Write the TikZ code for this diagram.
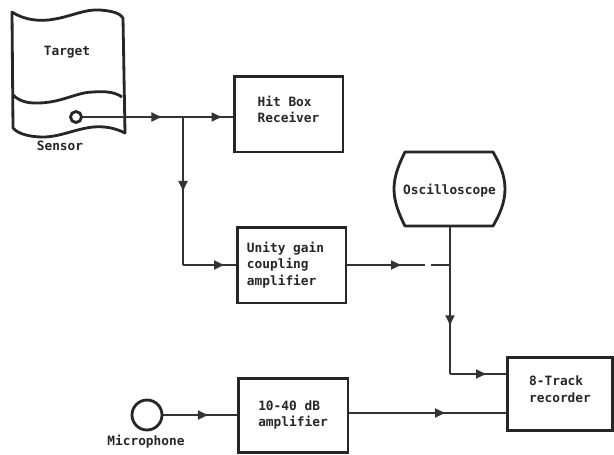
\documentclass[tikz,border=0pt]{standalone}
\usepackage{fontspec}
\setmainfont{DejaVu Sans Mono}
\usetikzlibrary{arrows.meta,decorations.markings}
\tikzset{
    box/.style={draw=black!85, line width=1.7pt, align=left, inner sep=0pt},
    lbl/.style={font=\fontsize{7.3}{9.2}\selectfont\bfseries, text=black!85},
    wire/.style={line width=1pt, draw=black!80},
    arrowat/.style={wire, postaction={decorate},
        decoration={markings, mark=at position #1 with {\arrow{Latex[length=0.23cm,width=0.2cm]}}}},
    outline/.style={draw=black!85, line width=1.6pt, line join=round},
}

\begin{document}
\begin{tikzpicture}[x=0.02cm, y=-0.02cm]
    \useasboundingbox (0,0) rectangle (614,454);

    % Target sheet
    \draw[outline] (12,12) .. controls (24,20) and (40,22) .. (55,19) .. controls (72,16) and (85,9) .. (100,10) .. controls (112,11) and (120,13) .. (123,18)
        -- (125,133) .. controls (115,128) and (105,126) .. (93,127) .. controls (75,129) and (60,137) .. (43,137) .. controls (30,137) and (18,134) .. (13,128) -- cycle;
    \draw[outline] (13,95) .. controls (22,104) and (35,104) .. (50,102) .. controls (68,99) and (80,92) .. (93,92) .. controls (105,91) and (115,92) .. (122,97);
    \node[lbl] (target) at (67,52) {Target};
    \node[circle, draw=black!85, line width=1.6pt, minimum size=0.22cm, inner sep=0pt] (sensor) at (76,117) {};
    \node[lbl] (sensorlabel) at (60,146) {Sensor};

    % Boxes
    \node[box, lbl, text depth=5pt, minimum width=2.18cm, minimum height=1.52cm] (hitbox) at (288.5,114) {Hit Box\\Receiver};
    \node[box, lbl, minimum width=2.18cm, minimum height=1.52cm] (unity) at (291.5,265) {Unity gain\hspace*{6.8pt}\\coupling\\amplifier};
    \node[box, lbl, minimum width=2.2cm, minimum height=1.48cm] (amp) at (293,415) {10-40 dB\\amplifier};
    \node[box, lbl, text depth=5pt, minimum width=2.1cm, minimum height=1.46cm] (rec) at (560,393.5) {8-Track\\recorder};

    % Oscilloscope
    \node[lbl, text height=8pt, minimum width=2.22cm, minimum height=1.48cm, inner sep=0pt] (osc) at (449.5,189) {Oscilloscope};
    \draw[outline] (405,152) -- (493,152) .. controls (500,164) and (505,176) .. (505,189)
        .. controls (505,202) and (500,214) .. (493,226) -- (405,226)
        .. controls (399,214) and (394,202) .. (394,189) .. controls (394,176) and (399,164) .. cycle;

    % Microphone
    \node[circle, draw=black!85, line width=1.6pt, minimum size=0.6cm, inner sep=0pt] (mic) at (147,415) {};
    \node[lbl] (miclabel) at (146,442) {Microphone};

    % Junctions
    \coordinate (jct) at (183,117);
    \coordinate (jctb) at (183,265);
    \coordinate (dasha) at (425,265);
    \coordinate (dashb) at (431,265);
    \coordinate (tap) at (450,265);
    \coordinate (bend) at (450,374);
    \coordinate (recin) at (rec.west |- 0,413);
    \coordinate (ampout) at (amp.east |- 0,413);

    % Connectors
    \draw[arrowat=0.8] (sensor) -- (jct);
    \draw[arrowat=0.81] (jct) -- (jct -| hitbox.west);
    \draw[arrowat=0.51] (jct) -- (jctb);
    \draw[arrowat=0.81] (jctb) -- (unity.west);
    \draw[arrowat=0.71] (unity.east) -- (dasha);
    \draw[wire] (dashb) -- (tap);
    \draw[arrowat=0.68] (osc.south -| tap) -- (bend);
    \draw[arrowat=0.67] (bend) -- (bend -| rec.west);
    \draw[arrowat=0.63] (mic) -- (amp.west);
    \draw[arrowat=0.62] (ampout) -- (recin);
\end{tikzpicture}
\end{document}
